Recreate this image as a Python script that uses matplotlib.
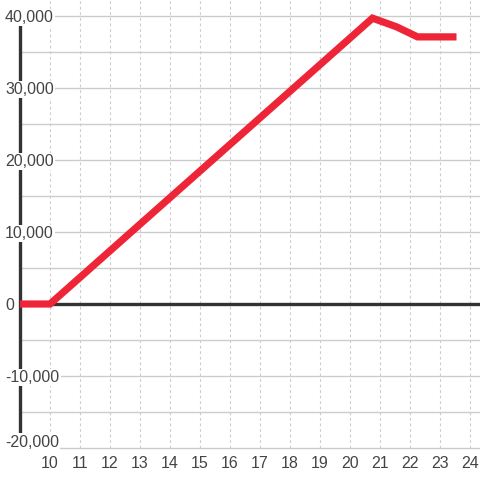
import matplotlib.pyplot as plt

# data
x_vals = [9, 10, 20.75, 21.55, 22.25, 23.55]
y_vals = [0, 0, 39700, 38500, 37100, 37100]
x_ticks = list(range(10, 25))
y_ticks = [-20000, -10000, 0, 10000, 20000, 30000, 40000]
y_grid = list(range(-20000, 40001, 5000))

plt.rcParams['font.family'] = ['Liberation Sans', 'DejaVu Sans']

fig = plt.figure(figsize=(4.8, 4.8), dpi=100)
ax = fig.add_axes([20 / 480, 32 / 480, 460 / 480, 448 / 480])
ax.set_xlim(9, 9 + 460 / 30)
ax.set_ylim(-20000, -20000 + 448 / 7.2 * 1000)

for s in ['top', 'right', 'bottom']:
    ax.spines[s].set_visible(False)
ax.spines['left'].set_color('#333333')
ax.spines['left'].set_linewidth(2.4)
ax.spines['left'].set_zorder(3)
ax.spines['left'].set_bounds(-20000, 40000)

# grid
for g in y_grid:
    ax.axhline(g, color='#cccccc', lw=1, zorder=1, clip_on=False)
for t in x_ticks:
    ax.axvline(t, color='#cccccc', lw=0.8, ls=(0, (2.5, 2.5)), zorder=1)
ax.axhline(0, color='#333333', lw=2.4, zorder=2)

ax.plot(x_vals, y_vals, color='#ee2437', lw=5.2, solid_capstyle='butt',
        solid_joinstyle='miter', zorder=4)

ax.set_xticks(x_ticks)
ax.set_xticklabels([str(t) for t in x_ticks])
ax.set_yticks([])
ax.tick_params(axis='x', length=0, pad=6, labelsize=11.5, labelcolor='#444444')

for v in y_ticks:
    if v == min(y_ticks):
        # lowest label sits just above the bottom line
        ax.text(8.5, v + 150, f'{v:,}', ha='left', va='baseline',
                fontsize=11.5, color='#444444', zorder=5, clip_on=False,
                bbox=dict(facecolor='white', edgecolor='none', pad=1))
    else:
        ax.text(8.5, v, f'{v:,}', ha='left', va='center_baseline',
                fontsize=11.5, color='#444444', zorder=5, clip_on=False,
                bbox=dict(facecolor='white', edgecolor='none', pad=1))

fig.savefig('out.png', dpi=100)
